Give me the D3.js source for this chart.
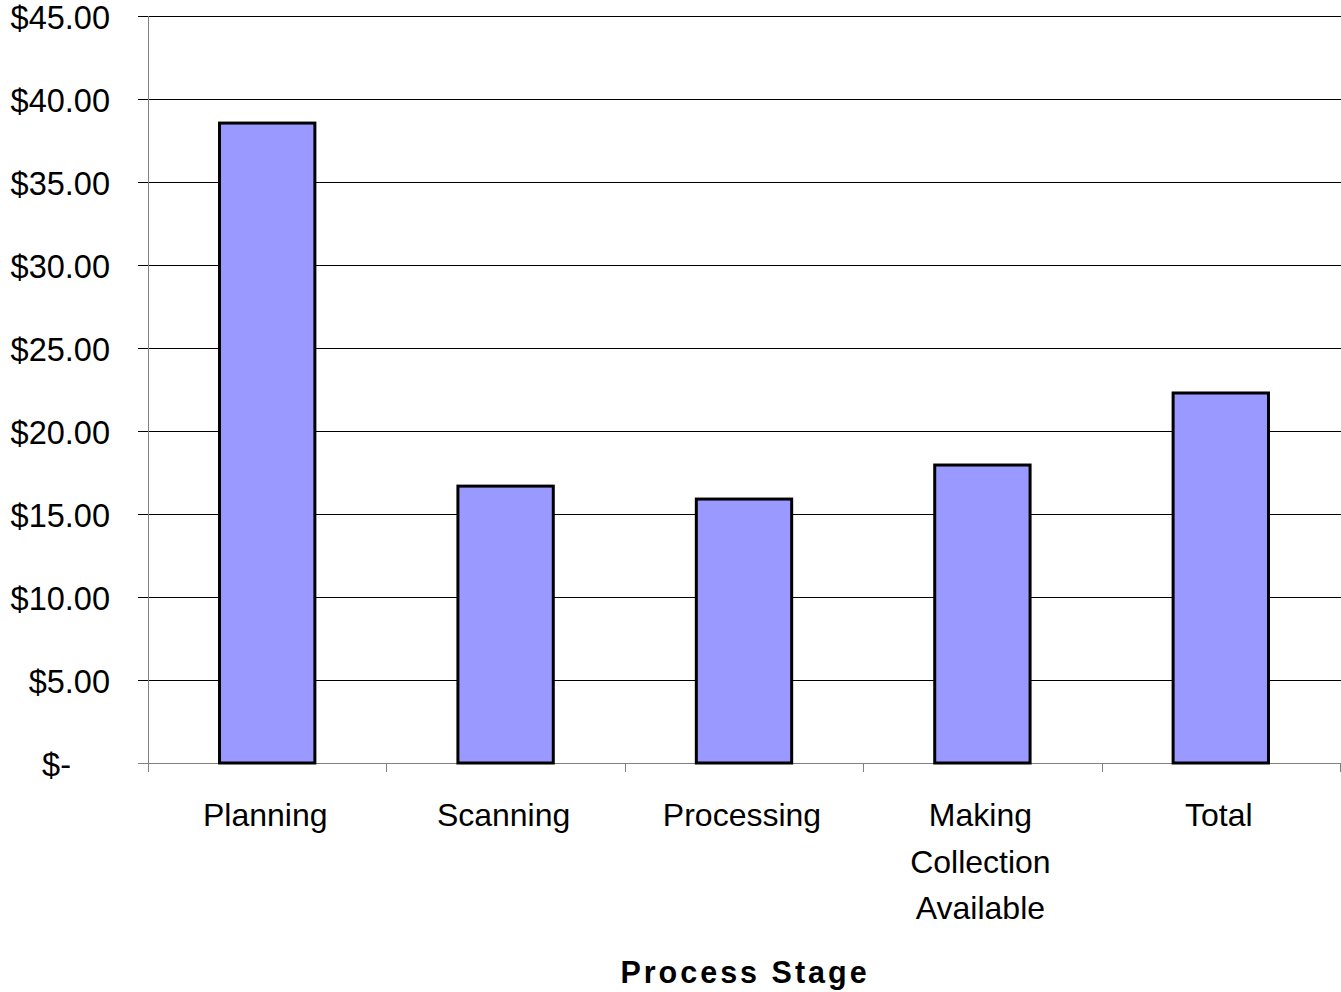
<!DOCTYPE html>
<html>
<head>
<meta charset="utf-8">
<script src="https://cdn.jsdelivr.net/npm/d3@7"></script>
<style>
  body { margin: 0; background: #fff; }
  text { font-family: "Liberation Sans", Arial, sans-serif; }
</style>
</head>
<body>
<main></main>
<script>
// cost per item by process stage

const stages = ["Planning", "Scanning", "Processing", "Making Collection Available", "Total"];
const stageLines = [["Planning"], ["Scanning"], ["Processing"], ["Making", "Collection", "Available"], ["Total"]];
const costs = [38.55, 16.68, 15.9, 17.95, 22.29];
const yTicks = [0, 5, 10, 15, 20, 25, 30, 35, 40, 45];

let width = 1341,
    height = 992;

let margin = { left: 148, right: 1, top: 16, bottom: 229 };

let svg = d3.select("main").append("svg")
  .attr("width", width)
  .attr("height", height);

let x = d3.scaleBand()
  .domain(stages)
  .range([margin.left, width - margin.right])
  .paddingInner(0.6)
  .paddingOuter(0.3);

let y = d3.scaleLinear()
  .domain([0, 45])
  .range([height - margin.bottom, margin.top]);

let fmt = v => v === 0 ? "$-" : "$" + d3.format(".2f")(v);

// Gridlines
svg.append("g")
  .selectAll("line")
  .data(yTicks)
  .enter()
  .append("line")
  .attr("x1", margin.left - 10)
  .attr("x2", width)
  .attr("y1", d => Math.round(y(d)) + 0.5)
  .attr("y2", d => Math.round(y(d)) + 0.5)
  .attr("stroke", d => d === 0 ? "#808080" : "#000")
  .attr("stroke-width", 1);

// Y labels
svg.append("g")
  .selectAll("text")
  .data(yTicks)
  .enter()
  .append("text")
  .attr("x", d => d === 0 ? 71 : 110)
  .attr("y", d => y(d) + 12.5)
  .attr("text-anchor", "end")
  .attr("font-size", 32.5)
  .attr("fill", "#000")
  .text(fmt);

// Y axis line
svg.append("line")
  .attr("x1", margin.left + 0.5).attr("x2", margin.left + 0.5)
  .attr("y1", margin.top).attr("y2", y(0) + 9)
  .attr("stroke", "#808080");

// Category ticks
let bounds = d3.range(stages.length + 1).map(i => margin.left + i * (width - margin.right - margin.left) / stages.length);
svg.append("g")
  .selectAll("line")
  .data(bounds)
  .enter()
  .append("line")
  .attr("x1", d => Math.round(d) + 0.5)
  .attr("x2", d => Math.round(d) + 0.5)
  .attr("y1", y(0))
  .attr("y2", y(0) + 9)
  .attr("stroke", "#808080");

// Bars
svg.append("g")
  .selectAll("rect")
  .data(costs)
  .enter()
  .append("rect")
  .attr("x", (d, i) => x(stages[i]))
  .attr("y", d => y(d))
  .attr("width", x.bandwidth())
  .attr("height", d => y(0) - y(d))
  .attr("fill", "#9999FF")
  .attr("stroke", "#000")
  .attr("stroke-width", 3);

// Category labels
let cat = svg.append("g")
  .selectAll("text")
  .data(stageLines)
  .enter()
  .append("text")
  .attr("text-anchor", "middle")
  .attr("font-size", 32)
  .attr("fill", "#000");

cat.each(function(lines, i) {
  let cx = x(stages[i]) + x.bandwidth() / 2 - 2;
  d3.select(this).selectAll("tspan")
    .data(lines)
    .enter()
    .append("tspan")
    .attr("x", cx)
    .attr("y", (d, j) => 826 + j * 46.5)
    .text(d => d);
});

// Axis title
svg.append("text")
  .attr("x", 745)
  .attr("y", 983)
  .attr("text-anchor", "middle")
  .attr("font-size", 30.5)
  .attr("font-weight", "bold")
  .attr("letter-spacing", 3)
  .text("Process Stage");
</script>
</body>
</html>
